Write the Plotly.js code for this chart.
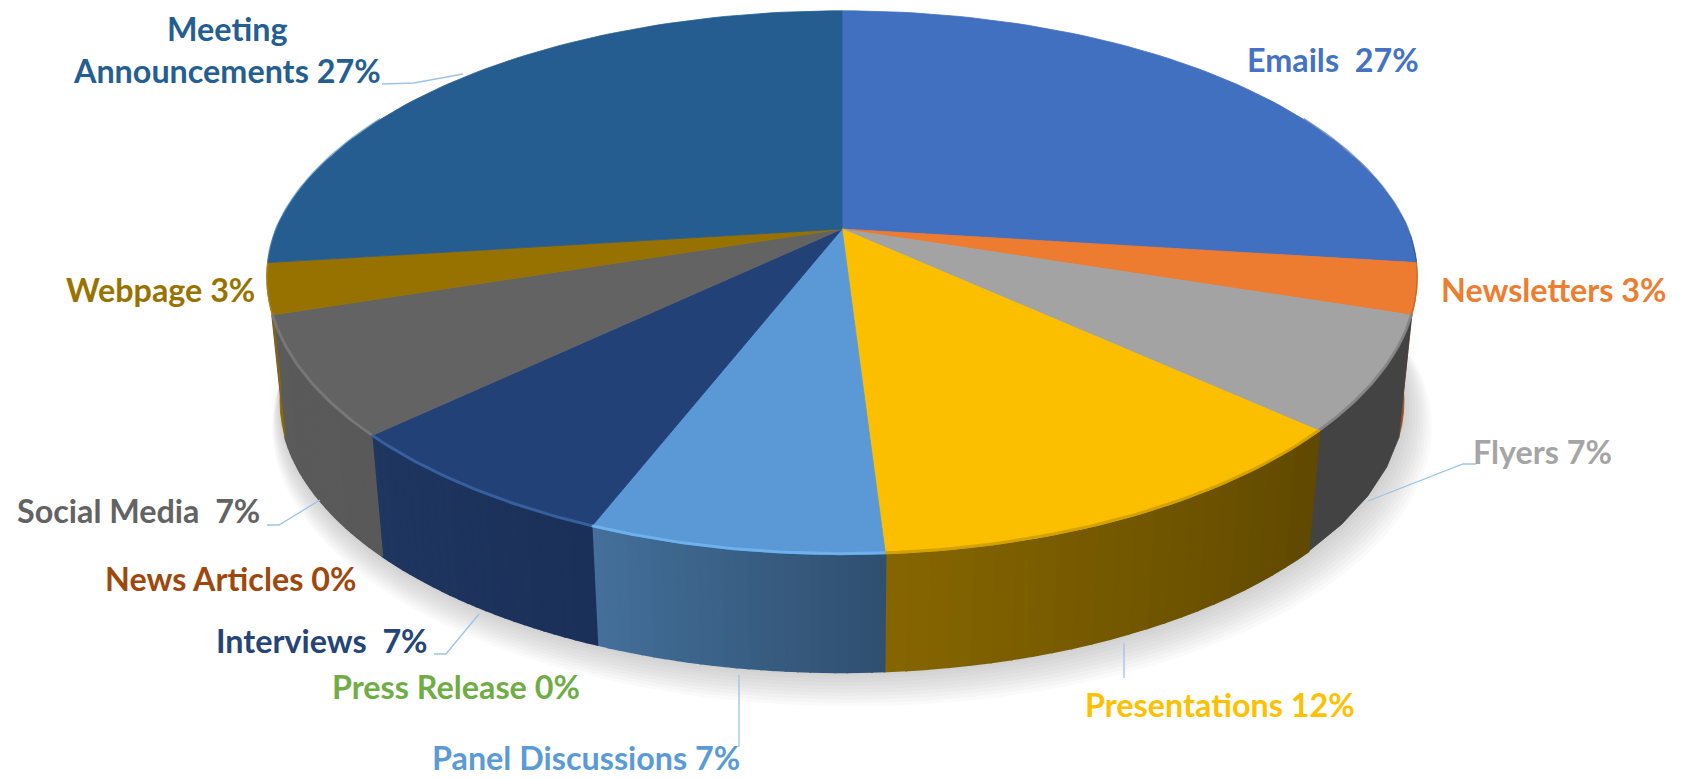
<!DOCTYPE html>
<html><head><meta charset="utf-8">
<script src="https://cdn.plot.ly/plotly-3.0.1.min.js"></script>
<style>html,body{margin:0;padding:0;background:#fff}#c{width:1682px;height:778px}</style>
</head><body><div id="c"></div>
<script>
const categories=["Emails","Newsletters","Flyers","Presentations","Panel Discussions","Press Release","Interviews","News Articles","Social Media","Webpage","Meeting Announcements"];
const percentValues=[27,3,6.7,12.3,7,0,7,0,7,3,27];
const labelTexts=["Emails\u00a0 27%","Newsletters 3%","Flyers 7%","Presentations 12%","Panel Discussions 7%","Press Release 0%","Interviews\u00a0 7%","News Articles 0%","Social Media\u00a0 7%","Webpage 3%","Meeting<br>Announcements 27%"];
const topColors=["#4270c0","#ed7b30","#a3a3a3","#fbbf00","#5b99d6","#70ad47","#224177","#9e480e","#636363","#977200","#255d90"];
const textColors=["#4472c4","#ed7d31","#a5a5a5","#ffc000","#5b9bd5","#70ad47","#264478","#9e480e","#636363","#997300","#255e91"];
const sideStart=["#2b4a85","#9a5020","#434343","#5f4800","#2f4f6f","#70ad47","#1b3058","#9e480e","#595959","#8a6a00",null];
const sideEnd=["#2b4a85","#9a5020","#434343","#866600","#44709b","#70ad47","#1e3661","#9e480e","#5b5b5b","#8a6a00",null];
const rimColors=["#2d5089","#b5601f","#7d7d7d","#c79a00","#74baf5","#70ad47","#3d69a8","#9e480e","#7e7e7e","#b59020","#2e74b5"];
const labelLeft=[1245,1439,1471,1083,430,330,214,103,15,64,227];
const labelMidY=[59,289,451,704,757,686,640,578,510,289,49];
const leaderLines=[
 [[382,84],[414,83],[463,74]],
 [[1476,464],[1463,464],[1368,501]],
 [[1124,643],[1124,678]],
 [[739,675],[739,747]],
 [[479,614],[446,654],[434,654]],
 [[320,500],[279,525],[267,525]]
];
// perspective disc
const CX=842,CY=229,A=566,B=261.3,K=0.1976,BS=0.977,BY=354,FRONT=0.02;
function topPt(t){const x=Math.sin(t),y=Math.cos(t),w=1+K*y,f=1-FRONT*Math.max(0,-y);return [CX+f*A*x/w,CY-B*y/w];}
function botPt(t){const p=topPt(t);return [CX+BS*(p[0]-CX),BY+BS*(p[1]-CY)];}
function hex(c){return [1,3,5].map(i=>parseInt(c.substr(i,2),16));}
function mix(a,b,f){const p=hex(a),q=hex(b);return "rgb("+p.map((v,i)=>Math.round(v+(q[i]-v)*f)).join(",")+")";}
const total=percentValues.reduce((a,b)=>a+b,0);
const rad=v=>v/total*2*Math.PI;
let traces=[];
function poly(pts,fill,opts){traces.push(Object.assign({type:"scatter",mode:"lines",x:pts.map(p=>p[0]),y:pts.map(p=>p[1]),fill:"toself",fillcolor:fill,line:{color:fill,width:0.8},hoverinfo:"skip",showlegend:false},opts||{}));}
// shadow
const circle=[];for(let i=0;i<=180;i++)circle.push(i/180*2*Math.PI);
for(let s=10;s>=1;s--){
  const g=1+s*0.0032, dy=s*2.4;
  poly(circle.map(t=>{const p=botPt(t);return [CX+g*(p[0]-CX)+s*1,BY+dy+g*(p[1]-BY)];}),"rgba(120,120,120,0.04)",{line:{width:0}});
}
// sides
let acc=0;const spans=[];
percentValues.forEach((v,i)=>{spans.push([rad(acc),rad(acc+v)]);acc+=v;});
spans.forEach((sp,i)=>{
  if(percentValues[i]===0||!sideStart[i])return;
  const lo=Math.max(sp[0],1.6),hi=sp[1];
  if(hi<=lo)return;
  const n=sideStart[i]===sideEnd[i]?1:24;
  for(let j=0;j<n;j++){
    const a=lo+(hi-lo)*j/n,b=lo+(hi-lo)*(j+1)/n,pts=[];
    for(let q=0;q<=4;q++)pts.push(topPt(a+(b-a)*q/4));
    for(let q=4;q>=0;q--)pts.push(botPt(a+(b-a)*q/4));
    const col=mix(sideStart[i],sideEnd[i],(j+0.5)/n);
    poly(pts.concat([pts[0]]),col,{line:{color:col,width:n>1?2:0.8}});
  }
});
// top faces
spans.forEach((sp,i)=>{
  if(percentValues[i]===0)return;
  const pts=[[CX,CY]],n=Math.max(6,Math.round((sp[1]-sp[0])*40));
  for(let q=0;q<=n;q++)pts.push(topPt(sp[0]+(sp[1]-sp[0])*q/n));
  pts.push([CX,CY]);
  poly(pts,topColors[i]);
});
// bevel highlights on the rim
spans.forEach((sp,i)=>{
  if(!rimColors[i]||percentValues[i]===0)return;
  const pts=[],n=40;
  let lo=sp[0],hi=sp[1];
  if(i===0)lo=hi-0.6;
  if(i===10)hi=lo+0.6;
  const thin=(i===0||i===10||i===1||i===9);
  for(let q=0;q<=n;q++)pts.push(topPt(lo+(hi-lo)*q/n));
  traces.push({type:"scatter",mode:"lines",x:pts.map(p=>p[0]),y:pts.map(p=>p[1]-1),line:{color:rimColors[i],width:thin?1.4:3},opacity:thin?0.55:0.75,hoverinfo:"skip",showlegend:false});
});
// leader lines
leaderLines.forEach(l=>traces.push({type:"scatter",mode:"lines",x:l.map(p=>p[0]),y:l.map(p=>p[1]),line:{color:"#9dc3e6",width:1.3},hoverinfo:"skip",showlegend:false}));
const annotations=categories.map((c,i)=>({xref:"x",yref:"y",x:labelLeft[i],y:labelMidY[i],text:"<b>"+labelTexts[i]+"</b>",showarrow:false,xanchor:i===10?"center":"left",yanchor:"middle",align:"center",font:{family:"Lato, sans-serif",size:32.3,color:textColors[i]}}));
Plotly.newPlot("c",traces,{width:1682,height:778,margin:{l:0,r:0,t:0,b:0},paper_bgcolor:"#fff",plot_bgcolor:"#fff",showlegend:false,
 xaxis:{range:[0,1682],visible:false,fixedrange:true},yaxis:{range:[778,0],visible:false,fixedrange:true},annotations},{displayModeBar:false,staticPlot:true});
</script></body></html>
